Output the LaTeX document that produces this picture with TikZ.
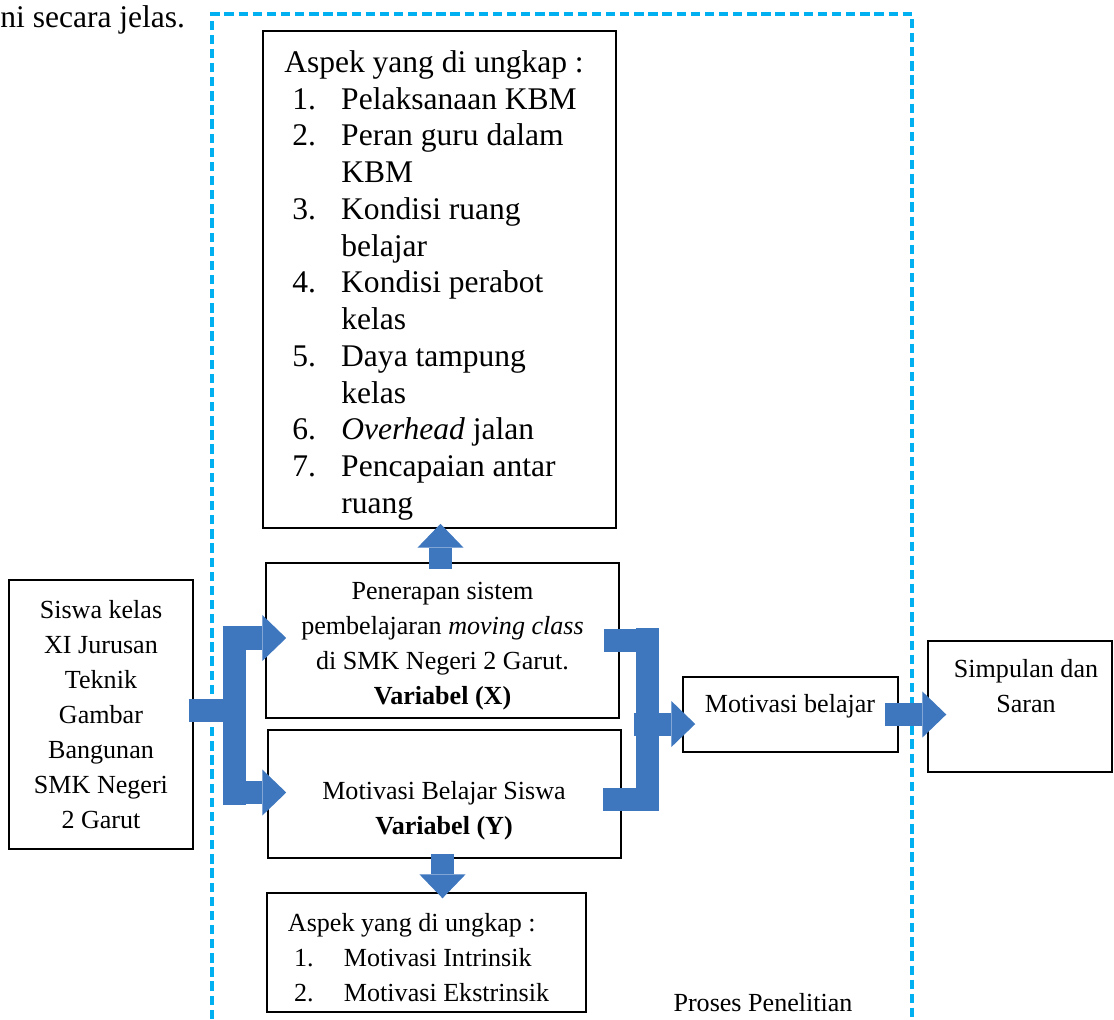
\documentclass[tikz,border=0pt]{standalone}
\usepackage{fontspec}
\setmainfont{Liberation Serif}
\usetikzlibrary{arrows.meta,calc}

\definecolor{arrowblue}{RGB}{62,119,190}
\definecolor{dashblue}{RGB}{0,176,240}

\begin{document}
\begin{tikzpicture}[x=0.46pt,y=-0.46pt,
    box/.style={draw,line width=0.7pt,inner sep=0pt},
    smalltext/.style={font=\fontsize{12}{16.1}\selectfont,align=center},
    bigtext/.style={font=\fontsize{14.5}{16.9}\selectfont},
    fatbar/.style={draw=arrowblue,line width=10.6pt},
    fatarrow/.style={fatbar,-{Triangle[width=21.2pt,length=11pt,line width=0pt]}},
    process/.style={draw=dashblue,line width=1.4pt,dash pattern=on 4.3pt off 2.2pt}]

  \useasboundingbox (0,0) rectangle (1114,1019);

  \node[bigtext,anchor=west,inner sep=0pt] (intro) at (0,20) {ni secara jelas.};
  \draw[process] (212,1019) |- (912,14) -- (912,1019);
  \node[smalltext] (proses) at (763,1003) {Proses Penelitian};

  \node[box,minimum width=162.4pt,minimum height=228.6pt] (aspekx) at (439.5,279.5) {};
  \node[bigtext] (aspekxtext) at (434,285.5) {%
    \begin{tabular}{@{\hspace{3.7pt}}p{22.5pt}@{}l@{}}
      \multicolumn{2}{@{}l@{}}{Aspek yang di ungkap :}\\
      1. & Pelaksanaan KBM\\
      2. & Peran guru dalam\\
         & KBM\\
      3. & Kondisi ruang\\
         & belajar\\
      4. & Kondisi perabot\\
         & kelas\\
      5. & Daya tampung\\
         & kelas\\
      6. & \textit{Overhead} jalan\\
      7. & Pencapaian antar\\
         & ruang
    \end{tabular}};
  \node[box,minimum width=162.4pt,minimum height=71.3pt] (xbox) at (442.5,640.5) {};
  \node[smalltext] (xtext) at (442.5,646.5)
    {Penerapan sistem\\pembelajaran \textit{moving class}\\di SMK Negeri 2 Garut.\\\textbf{Variabel (X)}};
  \node[box,minimum width=162.4pt,minimum height=58.9pt] (ybox) at (444.5,794) {};
  \node[smalltext] (ytext) at (444,811) {Motivasi Belajar Siswa\\\textbf{Variabel (Y)}};
  \node[box,minimum width=146.7pt,minimum height=54.7pt] (aspeky) at (426.5,952.5) {};
  \node[font=\fontsize{12}{15.9}\selectfont] (aspekytext) at (418.5,959.5) {%
    \begin{tabular}{@{\hspace{2.8pt}}p{23pt}@{}l@{}}
      \multicolumn{2}{@{}l@{}}{Aspek yang di ungkap :}\\
      1. & Motivasi Intrinsik\\
      2. & Motivasi Ekstrinsik
    \end{tabular}};
  \node[box,smalltext,minimum width=84.6pt,minimum height=123.7pt] (siswa) at (101,714.5)
    {Siswa kelas\\XI Jurusan\\Teknik\\Gambar\\Bangunan\\SMK Negeri\\2 Garut};
  \node[box,minimum width=98.9pt,minimum height=34.5pt] (mot) at (790.5,714.5) {};
  \node[smalltext] (mottext) at (790,706) {Motivasi belajar};
  \node[box,minimum width=84.6pt,minimum height=60.3pt] (simp) at (1020,706.5) {};
  \node[smalltext] (simptext) at (1026,686) {Simpulan dan\\Saran};

  \coordinate (lbar) at ($(siswa.east)+(40.5,-4.5)$);
  \draw[fatbar] ($(siswa.east)+(-5,-4.5)$) -- (lbar);
  \draw[fatbar] ($(lbar |- xbox.west)+(0,-13.5)$) -- ($(lbar |- ybox.west)+(0,11)$);
  \draw[fatarrow] ($(lbar |- xbox.west)+(-11.5,-2.5)$) -- ($(xbox.west)+(21,-2.5)$);
  \draw[fatarrow] ($(lbar |- ybox.west)+(-11.5,-1.5)$) -- ($(ybox.west)+(19,-1.5)$);

  \coordinate (rbar) at ($(xbox.east)+(27.5,0)$);
  \draw[fatbar] ($(xbox.east)+(-16,0)$) -- (rbar);
  \draw[fatbar] ($(ybox.east)+(-19,5.5)$) -- ($(rbar |- ybox.east)+(0,5.5)$);
  \draw[fatbar] ($(rbar)+(0,-12.5)$) -- ($(rbar |- ybox.east)+(0,17)$);
  \draw[fatarrow] ($(rbar |- mot.west)+(-13.5,9.5)$) -- ($(mot.west)+(13,9.5)$);

  \draw[fatarrow] ($(mot.east)+(-14,0)$) -- ($(mot.east -| simp.west)+(19,0)$);
  \draw[fatarrow] ($(xbox.north -| aspekx.south)+(1,7)$) -- ($(aspekx.south)+(1,-5)$);
  \draw[fatarrow] ($(ybox.south)+(-2,-5)$) -- ($(ybox.south |- aspeky.north)+(-2,6)$);

\end{tikzpicture}
\end{document}
